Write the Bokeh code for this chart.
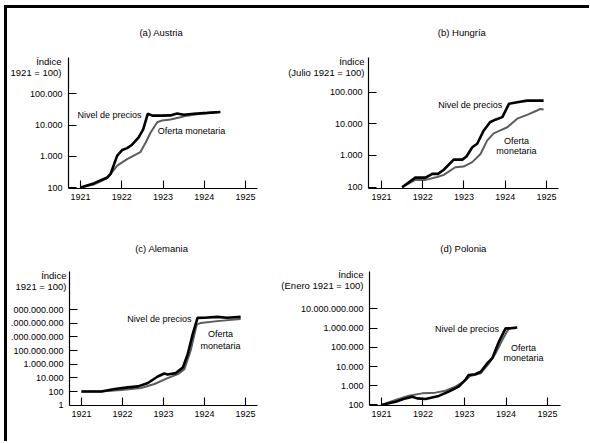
from bokeh.plotting import figure
from bokeh.models import FixedTicker, Label, Range1d
from bokeh.layouts import row, column
from bokeh.embed import file_html
from bokeh.resources import INLINE
from bokeh.core.properties import value

FONT = "Liberation Sans"

# ---------------- data ----------------
YEAR_TICKS = [1921, 1922, 1923, 1924, 1925]
SERIES_NAMES = ["Nivel de precios", "Oferta monetaria"]

# (a) Austria
A_PRICE_YEAR = [1921.0, 1921.32, 1921.65, 1921.73, 1921.89, 1922.01, 1922.13, 1922.25, 1922.41, 1922.52,
                1922.63, 1922.74, 1922.94, 1923.18, 1923.34, 1923.5, 1923.75, 1924.07, 1924.39]
A_PRICE_VAL = [100, 135, 210, 275, 1050, 1580, 1820, 2340, 4000, 7240,
               22900, 20000, 20000, 20400, 23400, 21400, 22900, 24500, 26300]
A_MONEY_YEAR = [1921.0, 1921.32, 1921.65, 1921.89, 1922.13, 1922.29, 1922.45, 1922.58, 1922.7, 1922.86,
                1922.98, 1923.18, 1923.42, 1923.58, 1923.91, 1924.39]
A_MONEY_VAL = [100, 125, 200, 500, 810, 1050, 1350, 2750, 5750, 12300,
               14100, 15100, 17800, 20000, 22900, 26300]
A_TICKS = [100, 1000, 10000, 100000]
A_TICK_LABELS = ["100", "1.000", "10.000", "100.000"]

# (b) Hungría
B_PRICE_YEAR = [1921.5, 1921.82, 1922.07, 1922.23, 1922.37, 1922.51, 1922.75, 1922.96, 1923.06, 1923.2,
                1923.32, 1923.48, 1923.63, 1923.76, 1923.93, 1924.09, 1924.29, 1924.53, 1924.93]
B_PRICE_VAL = [100, 200, 200, 263, 263, 355, 740, 740, 930, 1820,
               2340, 6170, 11200, 13500, 16200, 42700, 47900, 53700, 53700]
B_MONEY_YEAR = [1921.5, 1921.82, 1922.07, 1922.35, 1922.51, 1922.79, 1922.99, 1923.2, 1923.4, 1923.56,
                1923.72, 1923.88, 1924.05, 1924.29, 1924.53, 1924.77, 1924.85, 1924.93]
B_MONEY_VAL = [100, 170, 170, 209, 245, 427, 447, 617, 1120, 2950,
               5010, 6170, 7760, 14500, 19100, 26300, 29500, 28200]
B_TICKS = [100, 1000, 10000, 100000]
B_TICK_LABELS = ["100", "1.000", "10.000", "100.000"]

# (c) Alemania
C_PRICE_YEAR = [1921.0, 1921.48, 1921.81, 1922.13, 1922.38, 1922.62, 1922.86, 1923.02, 1923.1, 1923.3,
                1923.47, 1923.59, 1923.71, 1923.83, 1924.0, 1924.31, 1924.55, 1924.88]
C_PRICE_VAL = [100, 100, 240, 410, 575, 1780, 15800, 43600, 31600, 50100,
               316000, 2.9e7, 2.3e10, 5.9e12, 6.3e12, 8.3e12, 6.3e12, 8.3e12]
C_MONEY_YEAR = [1921.0, 1921.48, 1921.97, 1922.45, 1922.78, 1923.1, 1923.35, 1923.51, 1923.67, 1923.81,
                1923.91, 1924.31, 1924.88]
C_MONEY_VAL = [100, 100, 170, 330, 1260, 9330, 35500, 190000, 1.5e8, 6.3e11,
               1.1e12, 2e12, 4e12]
C_TICKS = [1, 100, 1e4, 1e6, 1e8, 1e10, 1e12, 1e14]
C_TICK_LABELS = ["1", "100", "10.000", "1.000.000", "100.000.000", ".000.000.000", ".000.000.000", "000.000.000"]

# (d) Polonia
D_PRICE_YEAR = [1921.0, 1921.34, 1921.58, 1921.74, 1921.86, 1922.06, 1922.38, 1922.62, 1922.86, 1923.02,
                1923.1, 1923.26, 1923.39, 1923.55, 1923.67, 1923.83, 1923.99, 1924.1, 1924.27]
D_PRICE_VAL = [100, 148, 219, 269, 219, 204, 295, 490, 890, 2000,
               3630, 3980, 5370, 14800, 26900, 200000, 977000, 977000, 1070000]
D_MONEY_YEAR = [1921.0, 1921.34, 1921.66, 1921.98, 1922.3, 1922.54, 1922.78, 1922.98, 1923.14, 1923.39,
                1923.59, 1923.75, 1923.91, 1924.07, 1924.23]
D_MONEY_VAL = [100, 182, 302, 400, 437, 550, 890, 1620, 3240, 4470,
               14800, 49000, 240000, 977000, 977000]
D_TICKS = [100, 1000, 1e4, 1e5, 1e6, 1e7]
D_TICK_LABELS = ["100", "1.000", "10.000", "100.000", "1.000.000", "10.000.000.000"]


def panel(title, ylabel2, w, h, borders, xr, yr, ticks, tick_labels,
          price, money, ann_price, ann_money, ylab_dx, ylab_dy, title_dy):
    left, right, top, bottom = borders
    p = figure(width=w, height=h, output_backend="svg", toolbar_location=None,
               y_axis_type="log",
               x_range=Range1d(*xr), y_range=Range1d(10 ** yr[0], 10 ** yr[1]),
               min_border_left=left, min_border_right=right,
               min_border_top=top, min_border_bottom=bottom)
    p.outline_line_color = None
    p.grid.grid_line_color = None
    p.background_fill_color = "white"
    p.border_fill_color = "white"

    for ax in (p.xaxis[0], p.yaxis[0]):
        ax.axis_line_color = "black"
        ax.axis_line_width = 1.2
        ax.major_tick_line_color = "black"
        ax.major_tick_line_width = 1.1
        ax.major_tick_in = 8
        ax.major_tick_out = 0
        ax.minor_tick_line_color = None
        ax.major_label_text_font = FONT
        ax.major_label_text_font_size = "9px"
        ax.major_label_text_color = "black"
    p.xaxis.ticker = FixedTicker(ticks=YEAR_TICKS)
    p.xaxis.major_label_standoff = 5
    p.yaxis.ticker = FixedTicker(ticks=ticks)
    p.yaxis.major_label_overrides = {float(t): s for t, s in zip(ticks, tick_labels)}
    p.yaxis.major_label_standoff = 6

    p.line(money[0], money[1], line_color="#5c5c5c", line_width=2.0)
    p.line(price[0], price[1], line_color="black", line_width=2.6)

    # inline series labels
    x, y, align = ann_price
    p.text([x], [y], text=[SERIES_NAMES[0]], text_align=align, text_baseline="middle",
           text_font=value(FONT), text_font_size="9px", text_color="black")
    mx, my, malign, multi = ann_money
    if multi:
        p.text([mx, mx], [my[0], my[1]], text=["Oferta", "monetaria"], text_align="center",
               text_baseline="middle", text_font=value(FONT), text_font_size="9px", text_color="black")
    else:
        p.text([mx], [my[0]], text=[SERIES_NAMES[1]], text_align=malign, text_baseline="middle",
               text_font=value(FONT), text_font_size="9px", text_color="black")

    # panel title and y-axis caption (in the side panel above, so they are not clipped)
    mid = (xr[0] + xr[1]) / 2 - 0.04
    p.add_layout(Label(x=mid, y=10 ** yr[1], y_offset=title_dy, text=title,
                       text_align="center", text_baseline="middle", text_font=FONT,
                       text_font_size="9.5px", text_color="black"), "above")
    for txt, dy in (("Índice", ylab_dy[0]), (ylabel2, ylab_dy[1])):
        p.add_layout(Label(x=xr[0], y=10 ** yr[1], x_offset=ylab_dx, y_offset=dy, text=txt,
                           text_align="right", text_baseline="middle", text_font=FONT,
                           text_font_size="9.5px", text_color="black"), "above")
    return p


# scanned-page frame: black rule on top and left; offsets of the grid compensate for it
BORDER = 3
MARGIN_TOP = 5
MARGIN_LEFT = 4
DY = BORDER + MARGIN_TOP
DX = BORDER + MARGIN_LEFT

pa = panel("(a) Austria", "1921 = 100)", 265 - DX, 224 - DY, (68 - DX, 8, 57 - DY, 34),
           (1920.709, 1925.291), (1.968, 6.163), A_TICKS, A_TICK_LABELS,
           (A_PRICE_YEAR, A_PRICE_VAL), (A_MONEY_YEAR, A_MONEY_VAL),
           (1922.48, 21400, "right"), (1922.87, (6450,), "left", False), -7, (-4, -15), 25)
pb = panel("(b) Hungría", "(Julio 1921 = 100)", 324, 224 - DY, (103, 31, 57 - DY, 36),
           (1920.685, 1925.291), (1.959, 6.091), B_TICKS, B_TICK_LABELS,
           (B_PRICE_YEAR, B_PRICE_VAL), (B_MONEY_YEAR, B_MONEY_VAL),
           (1923.93, 38000, "right"), (1924.27, (2950, 1380), "center", True), -4, (-4, -15), 25)
pc = panel("(c) Alemania", "1921 = 100)", 265 - DX, 217, (68 - DX, 8, 47, 35),
           (1920.709, 1925.291), (-0.04, 19.56), C_TICKS, C_TICK_LABELS,
           (C_PRICE_YEAR, C_PRICE_VAL), (C_MONEY_YEAR, C_MONEY_VAL),
           (1923.68, 4.3e12, "right"), (1924.39, (2.3e10, 4.2e8), "center", True), -3, (-4, -15), 23)
pd_ = panel("(d) Polonia", "(Enero 1921 = 100)", 324, 217, (104, 29, 47, 36),
            (1920.711, 1925.313), (1.97, 8.95), D_TICKS, D_TICK_LABELS,
            (D_PRICE_YEAR, D_PRICE_VAL), (D_MONEY_YEAR, D_MONEY_VAL),
            (1923.83, 912000, "right"), (1924.42, (96000, 27000), "center", True), -6, (-3, -14), 23)

layout = column(row(pa, pb), row(pc, pd_),
                margin=(MARGIN_TOP, 0, 0, MARGIN_LEFT),
                styles={"border-top": f"{BORDER}px solid black", "border-left": f"{BORDER}px solid black"})
open("out.html", "w").write(file_html(layout, INLINE))
